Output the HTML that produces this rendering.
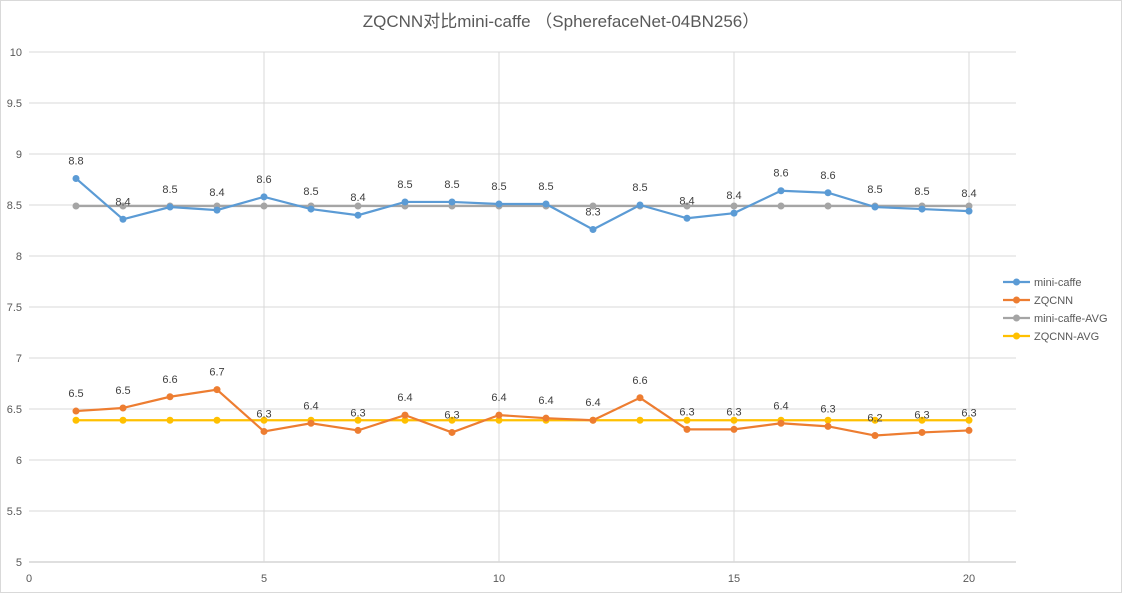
<!DOCTYPE html>
<html><head><meta charset="utf-8"><style>
body{margin:0;background:#fff;font-family:"Liberation Sans","Noto Sans CJK SC",sans-serif;}
svg{display:block}
</style></head><body>
<svg id="chart" width="1122" height="593" xmlns="http://www.w3.org/2000/svg">
<rect x="0.5" y="0.5" width="1121" height="592" fill="#fff" stroke="#d9d9d9"/>
<text x="561" y="27" text-anchor="middle" font-size="17" fill="#595959">ZQCNN对比mini-caffe （SpherefaceNet-04BN256）</text>
<g id="grid"></g><g id="series"></g><g id="legend"></g>
</svg>
<script>
const xs=[1,2,3,4,5,6,7,8,9,10,11,12,13,14,15,16,17,18,19,20];
const miniCaffe=[8.76,8.36,8.48,8.45,8.58,8.46,8.40,8.53,8.53,8.51,8.51,8.26,8.50,8.37,8.42,8.64,8.62,8.48,8.46,8.44];
const zqcnn=[6.48,6.51,6.62,6.69,6.28,6.36,6.29,6.44,6.27,6.44,6.41,6.39,6.61,6.30,6.30,6.36,6.33,6.24,6.27,6.29];
const miniCaffeAvg=8.49;
const zqcnnAvg=6.39;
const xTicks=[0,5,10,15,20];
const yTicks=[5,5.5,6,6.5,7,7.5,8,8.5,9,9.5,10];
const NS="http://www.w3.org/2000/svg";
const X=v=>29+v*47, Y=v=>562-(v-5)*102;
function mk(t,a,p){const e=document.createElementNS(NS,t);for(const k in a)e.setAttribute(k,a[k]);p.appendChild(e);return e;}
const grid=document.getElementById('grid'),ser=document.getElementById('series'),leg=document.getElementById('legend');
yTicks.forEach(t=>{const l=mk('line',{x1:29,x2:1016,y1:Y(t),y2:Y(t),stroke:t===5?'#bfbfbf':'#d9d9d9'},grid);

const tx=mk('text',{x:22,y:Y(t)+4,'text-anchor':'end','font-size':11,fill:'#595959'},grid);tx.textContent=t;
});
xTicks.forEach(t=>{if(t>0){const l=mk('line',{x1:X(t),x2:X(t),y1:Y(10),y2:Y(5),stroke:'#d9d9d9'},grid);
}
const tx=mk('text',{x:X(t),y:582,'text-anchor':'middle','font-size':11,fill:'#595959'},grid);tx.textContent=t;
});
function line(vals,color,name,labels){
const g=mk('g',{},ser);
const p=mk('polyline',{points:xs.map((x,i)=>X(x)+','+Y(vals[i])).join(' '),fill:'none',stroke:color,'stroke-width':2.2},g);

xs.forEach((x,i)=>{const c=mk('circle',{cx:X(x),cy:Y(vals[i]),r:3.5,fill:color},g);

if(labels){const t=mk('text',{x:X(x),y:Y(vals[i])-14,'text-anchor':'middle','font-size':11,fill:'#404040'},g);t.textContent=vals[i].toFixed(1);
}});}
line(xs.map(()=>miniCaffeAvg),'#a5a5a5','mini-caffe-avg',false);
line(xs.map(()=>zqcnnAvg),'#ffc000','zqcnn-avg',false);
line(miniCaffe,'#5b9bd5','mini-caffe',true);
line(zqcnn,'#ed7d31','zqcnn',true);
[['mini-caffe','#5b9bd5'],['ZQCNN','#ed7d31'],['mini-caffe-AVG','#a5a5a5'],['ZQCNN-AVG','#ffc000']].forEach((d,i)=>{
const y=282+i*18;const g=mk('g',{},leg);
mk('line',{x1:1003,x2:1030,y1:y,y2:y,stroke:d[1],'stroke-width':2.2},g);mk('circle',{cx:1016.5,cy:y,r:3.5,fill:d[1]},g);
const t=mk('text',{x:1034,y:y+4,'font-size':11,fill:'#595959'},g);t.textContent=d[0];});
</script>
</body></html>
